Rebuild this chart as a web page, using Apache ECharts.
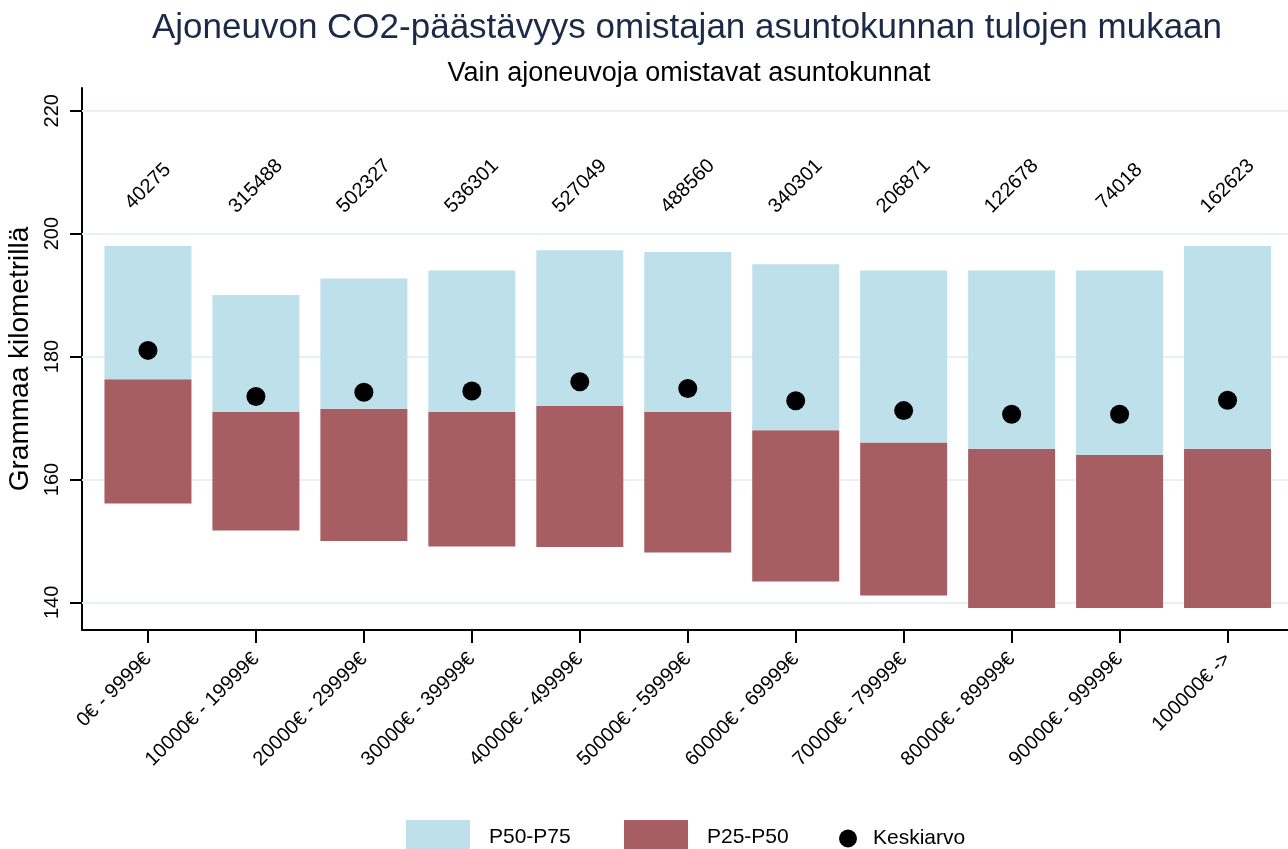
<!DOCTYPE html>
<html><head><meta charset="utf-8">
<script src="https://cdn.jsdelivr.net/npm/echarts@6/dist/echarts.min.js"></script>
<style>html,body{margin:0;padding:0;background:#fff}#c{width:1288px;height:849px}</style>
</head><body><div id="c"></div>
<script>
const categories = ['0€ - 9999€','10000€ - 19999€','20000€ - 29999€','30000€ - 39999€','40000€ - 49999€','50000€ - 59999€','60000€ - 69999€','70000€ - 79999€','80000€ - 89999€','90000€ - 99999€','100000€ ->'];
const counts = [40275, 315488, 502327, 536301, 527049, 488560, 340301, 206871, 122678, 74018, 162623];
const p25 = [156.1, 151.7, 150.0, 149.1, 149.0, 148.1, 143.4, 141.1, 139.1, 139.1, 139.1];
const p50 = [176.3, 171.0, 171.5, 171.0, 172.0, 171.0, 168.0, 166.0, 165.0, 164.0, 165.0];
const p75 = [198.0, 190.0, 192.7, 194.0, 197.3, 197.0, 195.0, 194.0, 194.0, 194.0, 198.0];
const mean = [181.0, 173.5, 174.2, 174.4, 175.9, 174.8, 172.8, 171.2, 170.6, 170.6, 172.9];
const yTicks = [140, 160, 180, 200, 220];
const countLabelY = 207.7;

const idx = categories.map((_, i) => i);
const FONT = '"Liberation Sans", Arial, sans-serif';
const chart = echarts.init(document.getElementById('c'), null, {renderer: 'canvas'});
const BLUE = '#bee0ea', RED = '#a65e62';
const BAR_W = 87;

function rangeBar(color) {
  return function (params, api) {
    const x = api.value(0);
    const lo = api.coord([x, api.value(1)]);
    const hi = api.coord([x, api.value(2)]);
    return {
      type: 'rect',
      shape: {x: lo[0] - BAR_W / 2, y: hi[1], width: BAR_W, height: lo[1] - hi[1]},
      style: {fill: color}
    };
  };
}

const option = {
  animation: false,
  textStyle: {fontFamily: FONT},
  title: [
    {text: 'Ajoneuvon CO2-päästävyys omistajan asuntokunnan tulojen mukaan', left: 687, top: 11, textAlign: 'center', padding: 0,
     textStyle: {fontSize: 35, fontWeight: 'normal', color: '#1c2a48', fontFamily: FONT}},
    {text: 'Vain ajoneuvoja omistavat asuntokunnat', left: 689, top: 60, textAlign: 'center', padding: 0,
     textStyle: {fontSize: 27, fontWeight: 'normal', color: '#000', fontFamily: FONT}}
  ],
  legend: [
    {data: ['P50-P75'], left: 406, top: 820, padding: 0, itemWidth: 64, itemHeight: 34, icon: 'rect', selectedMode: false,
     textStyle: {fontSize: 21, color: '#000', padding: [0, 0, 0, 14]}},
    {data: ['P25-P50'], left: 624, top: 820, padding: 0, itemWidth: 64, itemHeight: 34, icon: 'rect', selectedMode: false,
     textStyle: {fontSize: 21, color: '#000', padding: [0, 0, 0, 14]}},
    {data: ['Keskiarvo'], left: 839, top: 828, padding: 0, itemWidth: 18, itemHeight: 18, icon: 'circle', selectedMode: false,
     textStyle: {fontSize: 21, color: '#000', padding: [0, 0, 0, 11]}}
  ],
  grid: {left: 82, right: 0, top: 88, bottom: 849 - 630, containLabel: false, outerBoundsMode: 'none'},
  xAxis: {
    type: 'value', min: -0.611, max: 10.56,
    axisLine: {show: true, onZero: false, lineStyle: {color: '#000', width: 2}},
    axisTick: {show: true, customValues: idx, length: 13, lineStyle: {color: '#000', width: 2}},
    axisLabel: {customValues: idx, formatter: v => categories[Math.round(v)], rotate: 45, fontSize: 20, color: '#000', margin: 26},
    splitLine: {show: false}
  },
  yAxis: {
    type: 'value', min: 135.5, max: 223.7,
    axisLine: {show: true, onZero: false, lineStyle: {color: '#000', width: 2}},
    axisTick: {show: true, customValues: yTicks, length: 12, lineStyle: {color: '#000', width: 2}},
    axisLabel: {customValues: yTicks, rotate: 90, fontSize: 20, color: '#000', margin: 20},
    splitLine: {show: false},
    name: 'Grammaa kilometrillä', nameLocation: 'middle', nameGap: 40, nameRotate: 90,
    nameTextStyle: {fontSize: 28, color: '#000'}
  },
  series: [
    {name: 'P25-P50', type: 'custom', z: 3, renderItem: rangeBar(RED), itemStyle: {color: RED},
     encode: {x: 0, y: [1, 2]},
     data: idx.map(i => [i, p25[i], p50[i]]),
     markLine: {silent: true, symbol: 'none', label: {show: false}, animation: false, z: 1,
       lineStyle: {color: '#e8f0f2', width: 2, type: 'solid'}, data: yTicks.map(v => ({yAxis: v}))}},
    {name: 'P50-P75', type: 'custom', z: 3, renderItem: rangeBar(BLUE), itemStyle: {color: BLUE},
     encode: {x: 0, y: [1, 2]},
     data: idx.map(i => [i, p50[i], p75[i]])},
    {name: 'Keskiarvo', type: 'scatter', z: 5, symbolSize: 19,
     data: idx.map(i => [i, mean[i]]), itemStyle: {color: '#000', opacity: 1}},
    {name: 'n', type: 'scatter', z: 5, symbolSize: 1, silent: true,
     data: idx.map(i => [i, countLabelY]), itemStyle: {color: 'rgba(0,0,0,0)'},
     label: {show: true, position: 'inside', rotate: 45, fontSize: 20, color: '#000', opacity: 1,
       formatter: p => String(counts[p.dataIndex])}}
  ]
};
chart.setOption(option);
</script>
</body></html>
